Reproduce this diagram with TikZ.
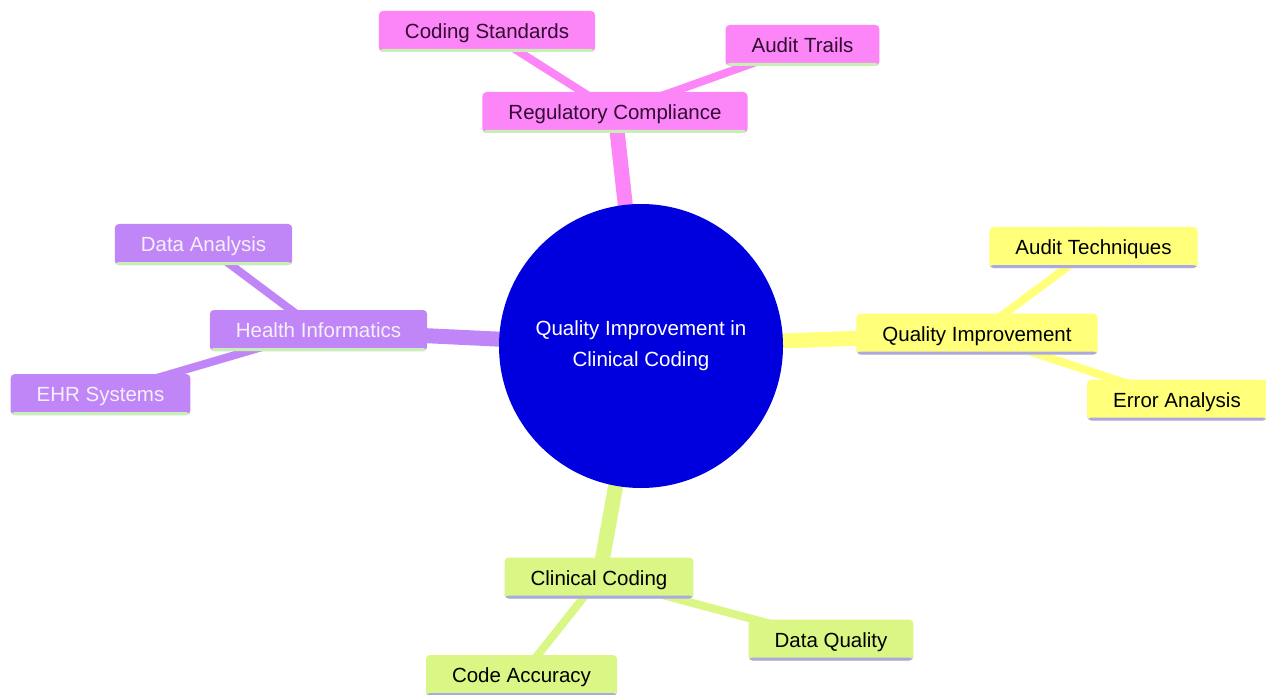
\documentclass[tikz,border=0pt]{standalone}
\usepackage{fontspec}
\setmainfont{Liberation Sans}
\usetikzlibrary{backgrounds}
\definecolor{cpink}{RGB}{252,134,248}
\definecolor{cpurple}{RGB}{192,134,248}
\definecolor{cyellow}{RGB}{255,255,122}
\definecolor{cgreen}{RGB}{218,246,132}
\definecolor{cblue}{RGB}{0,0,222}
\definecolor{lgreen}{RGB}{200,240,180}
\definecolor{lav}{RGB}{172,168,228}
\definecolor{pinktext}{RGB}{50,10,50}
\definecolor{purpletext}{RGB}{245,240,250}
\tikzset{
  box/.style={rectangle, rounded corners=4pt, inner xsep=26pt, inner ysep=0pt,
    minimum height=41pt, text height=19pt, text depth=4.3pt,
    font=\fontsize{20.5}{30}\selectfont},
  under/.style={path picture={\fill[#1] ([yshift=3pt]path picture bounding box.south west) rectangle (path picture bounding box.south east);}},
  pinkbox/.style={box, fill=cpink, text=pinktext, under=lgreen},
  purplebox/.style={box, fill=cpurple, text=purpletext, under=lgreen},
  yellowbox/.style={box, fill=cyellow, text=black, under=lav},
  greenbox/.style={box, fill=cgreen, text=black, under=lav},
  mainedge/.style={line width=15pt, #1},
  subedge/.style={line width=8pt, #1},
}
\begin{document}
\begin{tikzpicture}[x=1pt, y=-1pt]
\useasboundingbox (0,0) rectangle (1266,695);
\node[circle, fill=cblue, minimum size=284pt, inner sep=0pt, text=white, align=center,
  font=\fontsize{20.5}{31}\selectfont] (root) at (641,346) {Quality Improvement in\\Clinical Coding};

\node[pinkbox] (reg) at (615,112.5) {Regulatory Compliance};
\node[pinkbox] (cs) at (487,31.5) {Coding Standards};
\node[pinkbox] (at) at (802.5,45.5) {Audit Trails};

\node[purplebox] (hi) at (318.5,330.5) {Health Informatics};
\node[purplebox] (da) at (203.5,244.5) {Data Analysis};
\node[purplebox] (ehr) at (100.5,394.5) {EHR Systems};

\node[yellowbox] (qi) at (977,334) {Quality Improvement};
\node[yellowbox] (ate) at (1093.5,247.5) {Audit Techniques};
\node[yellowbox] (ea) at (1177,400) {Error Analysis};

\node[greenbox] (cc) at (599,578) {Clinical Coding};
\node[greenbox] (dq) at (831,640) {Data Quality};
\node[greenbox] (ca) at (521.5,675.5) {Code Accuracy};

\begin{scope}[on background layer]
\draw[mainedge=cpink] (root.center) -- (reg.center);
\draw[subedge=cpink] (reg.center) -- (cs.center);
\draw[subedge=cpink] (reg.center) -- (at.center);
\draw[mainedge=cpurple] (root.center) -- (hi.center);
\draw[subedge=cpurple] (hi.center) -- (da.center);
\draw[subedge=cpurple] (hi.center) -- (ehr.center);
\draw[mainedge=cyellow] (root.center) -- (qi.center);
\draw[subedge=cyellow] (qi.center) -- (ate.center);
\draw[subedge=cyellow] (qi.center) -- (ea.center);
\draw[mainedge=cgreen] (root.center) -- (cc.center);
\draw[subedge=cgreen] (cc.center) -- (dq.center);
\draw[subedge=cgreen] (cc.center) -- (ca.center);
\end{scope}
\end{tikzpicture}
\end{document}
